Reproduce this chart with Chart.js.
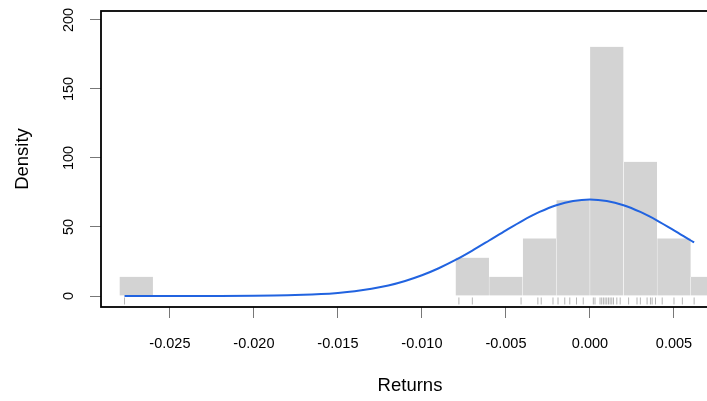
<!DOCTYPE html>
<html>
<head>
<meta charset="utf-8">
<script src="https://cdn.jsdelivr.net/npm/chart.js@4/dist/chart.umd.min.js"></script>
<style>
  html, body { margin: 0; padding: 0; background: #fff; overflow: hidden; }
  #wrap { width: 740px; height: 401px; }
</style>
</head>
<body>
<div id="wrap"><canvas id="histChart" width="740" height="401"></canvas></div>
<script>
// histogram bins (centres, width 0.002) and density
const binCenters = [-0.027, -0.007, -0.005, -0.003, -0.001, 0.001, 0.003, 0.005, 0.007];
const binDensity = [13.9, 27.8, 13.9, 41.7, 69.4, 180.6, 97.2, 41.7, 13.9];

// fitted normal curve
const curveX = [-0.0277, -0.024, -0.020, -0.018, -0.016, -0.015, -0.014, -0.013, -0.012, -0.011,
  -0.010, -0.009, -0.008, -0.007, -0.006, -0.005, -0.004, -0.003, -0.002, -0.001,
  0.000, 0.001, 0.002, 0.003, 0.004, 0.005, 0.006, 0.0062];
const curveY = [0.0, 0.0, 0.2, 0.5, 1.4, 2.2, 3.4, 5.2, 7.6, 10.9,
  15.0, 20.1, 26.1, 32.9, 40.2, 47.6, 54.7, 60.9, 65.8, 68.9,
  70.0, 68.9, 65.8, 60.9, 54.7, 47.6, 40.2, 38.8];

// individual returns (rug)
const returns = [-0.0277, -0.0078, -0.0070, -0.0041, -0.0031, -0.0029, -0.0022,
  -0.0019, -0.0015, -0.0012, -0.0008, -0.0004,
  0.0002, 0.0003, 0.0006, 0.0007, 0.0008, 0.0009, 0.0010, 0.0011, 0.0012, 0.0013, 0.0014, 0.0016, 0.0018,
  0.0023, 0.0028, 0.0030, 0.0034, 0.0036, 0.0037, 0.0039,
  0.0043, 0.0050, 0.0055, 0.0062];

const xTicks = [-0.025, -0.020, -0.015, -0.010, -0.005, 0.000, 0.005];
const yTicks = [0, 50, 100, 150, 200];

const FONT = "'Liberation Sans', Arial, Helvetica, sans-serif";
const RUG_Y = -3.6;

const boxPlugin = {
  id: "box",
  afterDatasetsDraw(chart) {
    const { ctx, chartArea: a } = chart;
    ctx.save();
    ctx.strokeStyle = "#000";
    ctx.lineWidth = 1.8;
    ctx.strokeRect(a.left, a.top, a.right - a.left, a.bottom - a.top);
    ctx.restore();
  },
};

new Chart(document.getElementById("histChart"), {
  type: "bar",
  data: {
    datasets: [
      {
        type: "line",
        data: curveX.map((x, i) => ({ x: x, y: curveY[i] })),
        borderColor: "#2163e0",
        borderWidth: 2,
        pointRadius: 0,
        tension: 0.3,
        fill: false,
        order: 0,
      },
      {
        type: "scatter",
        data: returns.map((r) => ({ x: r, y: RUG_Y })),
        pointStyle: "line",
        rotation: 90,
        radius: 3.5,
        borderColor: "#b5b5b5",
        borderWidth: 1,
        order: 1,
      },
      {
        type: "bar",
        data: binCenters.map((c, i) => ({ x: c, y: binDensity[i] })),
        backgroundColor: "#d3d3d3",
        borderColor: "#ffffff",
        borderWidth: { left: 0.5, right: 0.5, top: 0, bottom: 0 },
        barPercentage: 1,
        categoryPercentage: 1,
        order: 2,
      },
    ],
  },
  options: {
    responsive: false,
    animation: false,
    events: [],
    layout: { padding: { top: 11, right: 21, left: 0, bottom: 0 } },
    plugins: { legend: { display: false }, tooltip: { enabled: false } },
    scales: {
      x: {
        type: "linear",
        min: -0.0291,
        max: 0.00768,
        offset: false,
        afterBuildTicks: (s) => { s.ticks = xTicks.map((v) => ({ value: v })); },
        afterFit: (s) => { s.height = 94; s.paddingLeft = 0; s.paddingRight = 0; },
        border: { display: false },
        grid: { drawOnChartArea: false, offset: false, tickLength: 11, color: "#777", tickColor: "#777" },
        ticks: {
          color: "#000",
          padding: 17,
          maxRotation: 0,
          autoSkip: false,
          font: { family: FONT, size: 14.5 },
          callback: (v) => Number(v).toFixed(3),
        },
        title: {
          display: true,
          text: "Returns",
          color: "#000",
          font: { family: FONT, size: 18.5 },
          padding: { top: 0, bottom: 4 },
        },
      },
      y: {
        min: -7.97,
        max: 206.5,
        afterBuildTicks: (s) => { s.ticks = yTicks.map((v) => ({ value: v })); },
        afterFit: (s) => { s.width = 101; s.paddingTop = 0; s.paddingBottom = 0; },
        border: { display: false },
        grid: { drawOnChartArea: false, tickLength: 11, color: "#777", tickColor: "#777" },
        ticks: {
          color: "#000",
          padding: 9,
          minRotation: 90,
          maxRotation: 90,
          crossAlign: "center",
          autoSkip: false,
          font: { family: FONT, size: 14.5 },
        },
        title: {
          display: true,
          text: "Density",
          color: "#000",
          font: { family: FONT, size: 18.5 },
          padding: { top: 12, bottom: 0 },
        },
      },
    },
  },
  plugins: [boxPlugin],
});
</script>
</body>
</html>
